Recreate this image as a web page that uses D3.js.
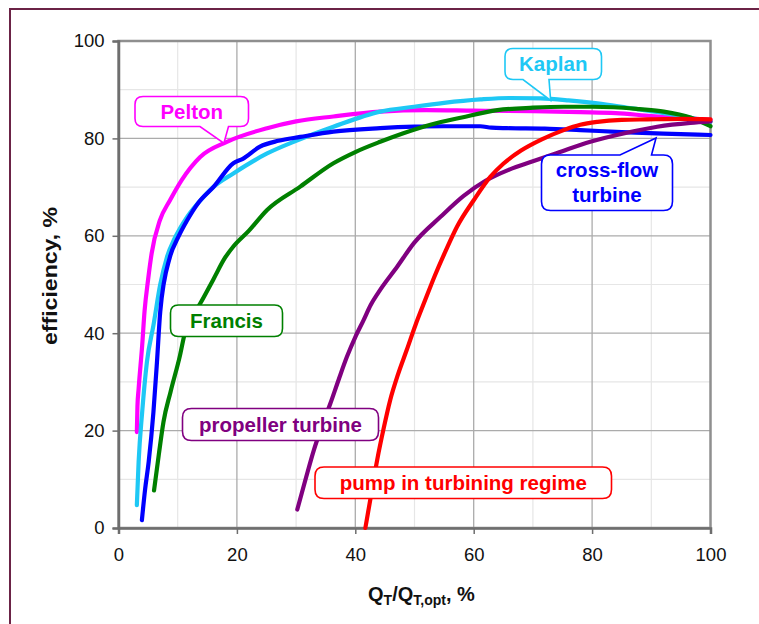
<!DOCTYPE html>
<html>
<head>
<meta charset="utf-8">
<script src="https://cdn.jsdelivr.net/npm/d3@7"></script>
<style>
  html, body { margin: 0; padding: 0; background: #ffffff; }
  svg { display: block; font-family: "Liberation Sans", Arial, sans-serif; }
</style>
</head>
<body>
<svg id="chart" width="759" height="624"></svg>
<script>
// ---------- data ----------
const xTicks = [0, 20, 40, 60, 80, 100];
const yTicks = [0, 20, 40, 60, 80, 100];
const minorTicks = [10, 30, 50, 70, 90];

const pelton = [[3.1,19.7],[3.2,25],[3.4,28.6],[4.0,37.5],[4.4,44.5],[5.0,51],[5.6,56.4],[7.0,63.2],[8.7,67.3],[10.7,71.5],[13.8,76.2],[18.3,79.3],[25.1,82.1],[30,83.5],[36.3,84.5],[44.2,85.5],[52,85.8],[60,85.7],[70,85.6],[78,85.4],[84,85.2],[90,84.6],[95,84.2],[100,83.8]];
const kaplan = [[3.1,4.7],[3.4,13.6],[4.0,23.8],[4.8,34.1],[5.9,41.6],[7.05,50],[8.2,55.7],[9.5,59.5],[11.6,63.9],[14,67.5],[16,70],[19.4,72.8],[25.1,76.9],[30,79.5],[36.3,82.4],[44.2,85.5],[49.9,86.5],[55,87.3],[61.1,88.0],[66,88.3],[71.3,88.2],[76,87.8],[80.9,87.2],[86,86.3],[92.1,85.2],[96,84.4],[100,83.4]];
const crossFlow = [[3.95,1.6],[4.5,8],[5.1,13.6],[5.9,23.8],[6.5,34.1],[7.05,44.4],[8.7,55.7],[10,59.5],[11.6,63.2],[13.5,66.8],[16.1,70.1],[19.4,74.9],[21,75.8],[23.9,78.3],[27,79.5],[30.7,80.3],[36.3,81.4],[44.2,82.1],[50,82.4],[55,82.5],[61.1,82.5],[63,82.2],[65.6,82.1],[72,82.0],[78,81.7],[85,81.3],[92,81.0],[100,80.7]];
const francis = [[6.0,7.7],[6.8,15],[7.6,21.8],[8.8,28],[10.4,35.5],[11.2,40],[12.5,43.5],[13.8,46.1],[16,51],[18,55.5],[19.4,57.8],[22,61],[25.1,65.3],[30.7,70.1],[36.3,74.9],[40,77.2],[44.2,79.3],[48,81],[52.7,82.8],[58,84.3],[64,85.8],[70,86.3],[75.2,86.5],[80,86.5],[83.7,86.4],[88,86],[92.1,85.5],[96.6,84.3],[100,82.5]];
const propeller = [[30.2,3.8],[31.6,10],[33,16],[34.4,21],[35.8,25.6],[37.2,30.5],[38.6,35.2],[40,39.2],[41.4,42.7],[42.6,45.8],[44.2,48.9],[47.1,53.7],[49.9,58.5],[54.4,63.9],[58.3,68.2],[62,71.3],[66,73.6],[70,75.3],[74.1,77],[79.7,79.3],[85.3,81],[91,82.4],[96.6,83.2],[100,83.5]];
const pump = [[41.7,0],[42.7,7],[43.7,14],[44.8,20.5],[45.9,26.3],[47.2,31.5],[48.7,36.6],[50.2,41.8],[51.8,46.8],[53.5,52],[55.3,57],[57.2,61.9],[60,67.3],[62.8,72.1],[65,74.8],[68,77.5],[71.5,79.8],[75.2,81.7],[78,82.8],[80.9,83.4],[85,83.8],[89.3,83.9],[95,84],[100,83.9]];

const seriesNames = ["Pelton", "Kaplan", "cross-flow turbine", "Francis", "propeller turbine", "pump in turbining regime"];
const seriesColors = ["#ff00ff", "#1ec8f5", "#0000ff", "#008000", "#800080", "#ff0000"];
const seriesData = [pelton, kaplan, crossFlow, francis, propeller, pump];

// ---------- layout ----------
const svg = d3.select("#chart");
const W = 759, H = 624;
const plot = { left: 118.5, top: 41, right: 710.5, bottom: 528 };

svg.append("rect").attr("width", W).attr("height", H).attr("fill", "#ffffff");
// outer frame
svg.append("rect").attr("x", 10).attr("y", 9).attr("width", 800).attr("height", 700)
  .attr("fill", "none").attr("stroke", "#6b2346").attr("stroke-width", 2);

const x = d3.scaleLinear().domain([0, 100]).range([plot.left, plot.right]);
const y = d3.scaleLinear().domain([0, 100]).range([plot.bottom, plot.top]);

// minor grid
const g = svg.append("g");
g.selectAll("line.mx").data(minorTicks).join("line")
  .attr("x1", d => x(d)).attr("x2", d => x(d)).attr("y1", plot.top).attr("y2", plot.bottom)
  .attr("stroke", "#e6e6e6").attr("stroke-width", 1.2);
g.selectAll("line.my").data(minorTicks).join("line")
  .attr("y1", d => y(d)).attr("y2", d => y(d)).attr("x1", plot.left).attr("x2", plot.right)
  .attr("stroke", "#e6e6e6").attr("stroke-width", 1.2);
// major grid
g.selectAll("line.Mx").data(xTicks.slice(1, -1)).join("line")
  .attr("x1", d => x(d)).attr("x2", d => x(d)).attr("y1", plot.top).attr("y2", plot.bottom)
  .attr("stroke", "#ababab").attr("stroke-width", 1.3);
g.selectAll("line.My").data(yTicks.slice(1, -1)).join("line")
  .attr("y1", d => y(d)).attr("y2", d => y(d)).attr("x1", plot.left).attr("x2", plot.right)
  .attr("stroke", "#ababab").attr("stroke-width", 1.3);

// plot frame
svg.append("rect").attr("x", plot.left).attr("y", plot.top)
  .attr("width", plot.right - plot.left).attr("height", plot.bottom - plot.top)
  .attr("fill", "none").attr("stroke", "#8f8f8f").attr("stroke-width", 2.5);

// axes
const yAxis = d3.axisLeft(y).tickValues(yTicks).tickSize(6).tickPadding(8).tickFormat(d3.format("d"));
const xAxis = d3.axisBottom(x).tickValues(xTicks).tickSize(6).tickPadding(14).tickFormat(d3.format("d"));
const ya = svg.append("g").attr("transform", `translate(${plot.left},0)`).call(yAxis);
const xa = svg.append("g").attr("transform", `translate(0,${plot.bottom})`).call(xAxis);
[ya, xa].forEach(a => {
  a.select(".domain").attr("stroke", "#6e6e6e").attr("stroke-width", 2.5);
  a.selectAll(".tick line").attr("stroke", "#6e6e6e").attr("stroke-width", 1.5);
  a.selectAll(".tick text").attr("fill", "#111").style("font-size", "18.5px")
    .style("font-family", "'Liberation Sans', Arial, sans-serif");
});

// lines
const line = d3.line().x(d => x(d[0])).y(d => y(d[1])).curve(d3.curveMonotoneX);
svg.append("g").selectAll("path").data(seriesData).join("path")
  .attr("d", d => line(d)).attr("fill", "none")
  .attr("stroke", (d, i) => seriesColors[i]).attr("stroke-width", 4.2)
  .attr("stroke-linejoin", "round").attr("stroke-linecap", "round");

// axis titles
svg.append("text").attr("transform", "translate(57,276) rotate(-90)")
  .attr("text-anchor", "middle").style("font-weight", "bold").style("font-size", "21px")
  .attr("textLength", 138).attr("lengthAdjust", "spacingAndGlyphs")
  .attr("fill", "#111").text("efficiency, %");

const xt = svg.append("text").attr("x", 368).attr("y", 601)
  .style("font-weight", "bold").style("font-size", "20px").attr("fill", "#111");
xt.append("tspan").text("Q");
xt.append("tspan").attr("dy", 4).style("font-size", "14px").text("T");
xt.append("tspan").attr("dy", -4).text("/Q");
xt.append("tspan").attr("dy", 4).style("font-size", "14px").text("T,opt");
xt.append("tspan").attr("dy", -4).text(", %");

// ---------- callouts ----------
function calloutPath(b, t) {
  const r = b.r;
  let p = `M${b.x0 + r},${b.y0}`;
  if (t && t.side === "top") p += ` H${t.a} L${t.tx},${t.ty} L${t.b},${b.y0}`;
  p += ` H${b.x1 - r} Q${b.x1},${b.y0} ${b.x1},${b.y0 + r} V${b.y1 - r} Q${b.x1},${b.y1} ${b.x1 - r},${b.y1}`;
  if (t && t.side === "bottom") p += ` H${t.b} L${t.tx},${t.ty} L${t.a},${b.y1}`;
  p += ` H${b.x0 + r} Q${b.x0},${b.y1} ${b.x0},${b.y1 - r} V${b.y0 + r} Q${b.x0},${b.y0} ${b.x0 + r},${b.y0} Z`;
  return p;
}
const callouts = [
  { i: 0, box: { x0: 135, y0: 96.5, x1: 248.5, y1: 126.5, r: 8 }, tail: { side: "bottom", a: 200, b: 228.5, tip: [17.8, 79] }, lines: ["Pelton"] },
  { i: 1, box: { x0: 505, y0: 48.5, x1: 601.5, y1: 79.5, r: 8 }, tail: { side: "bottom", a: 523, b: 549, tip: [73, 87.8] }, lines: ["Kaplan"] },
  { i: 2, box: { x0: 541.5, y0: 155, x1: 672.5, y1: 210.5, r: 9 }, tail: { side: "top", a: 620, b: 651.5, tip: [90.8, 80.1] }, lines: ["cross-flow", "turbine"] },
  { i: 3, box: { x0: 170.5, y0: 305, x1: 282.5, y1: 336.5, r: 8 }, tail: null, lines: ["Francis"] },
  { i: 4, box: { x0: 182.5, y0: 408.5, x1: 378.5, y1: 440.5, r: 9 }, tail: null, lines: ["propeller turbine"] },
  { i: 5, box: { x0: 315, y0: 467, x1: 611.5, y1: 498.5, r: 9 }, tail: null, lines: ["pump in turbining regime"] }
];
const cg = svg.append("g");
callouts.forEach(c => {
  const t = c.tail ? { side: c.tail.side, a: c.tail.a, b: c.tail.b, tx: x(c.tail.tip[0]), ty: y(c.tail.tip[1]) } : null;
  cg.append("path").attr("d", calloutPath(c.box, t))
    .attr("fill", "#ffffff").attr("stroke", seriesColors[c.i]).attr("stroke-width", 1.6);
  const cx = (c.box.x0 + c.box.x1) / 2, cy = (c.box.y0 + c.box.y1) / 2;
  const n = c.lines.length, lh = 25;
  c.lines.forEach((s, k) => {
    cg.append("text").attr("x", cx).attr("y", cy + (k - (n - 1) / 2) * lh + 7)
      .attr("text-anchor", "middle").style("font-weight", "bold").style("font-size", "20.5px")
      .attr("fill", seriesColors[c.i]).text(s);
  });
});
</script>
</body>
</html>
